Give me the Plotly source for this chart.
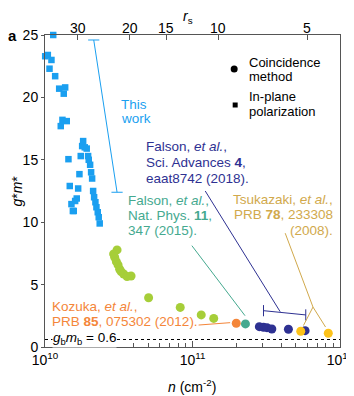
import math
import plotly.graph_objects as go

# ---- data (n in cm^-2, g*m*) ----
this_work_n = [1.137e10, 1.003e10, 1.045e10, 1.106e10, 1.073e10, 1.172e10, 1.248e10, 1.37e10,
               1.34e10, 1.313e10, 1.404e10, 1.279e10, 1.814e10, 1.786e10, 1.86e10, 1.918e10,
               1.442e10, 1.747e10, 1.96e10, 1.979e10, 2.023e10, 1.712e10, 2.054e10, 2.087e10,
               1.472e10, 1.678e10, 2.12e10, 2.153e10, 1.641e10, 1.601e10, 2.197e10, 1.511e10,
               2.232e10, 1.566e10, 1.545e10, 2.278e10, 2.313e10, 2.349e10]
this_work_gm = [25.0, 23.3, 23.4, 23.0, 22.3, 21.7, 20.7, 20.8, 20.3, 18.2, 18.1, 17.7, 16.5, 16.1,
                16.0, 15.9, 15.05, 15.3, 15.3, 15.0, 14.6, 13.85, 14.0, 13.5, 12.9, 12.7, 12.5, 12.0,
                11.9, 11.7, 11.6, 11.45, 11.2, 10.9, 10.9, 10.8, 10.4, 9.9]

green_n = [3.08e10, 2.92e10, 2.968e10, 3.047e10, 3.129e10, 3.208e10, 3.28e10, 3.415e10, 3.6e10,
           3.832e10, 5.04e10, 8.26e10, 1.146e11, 1.393e11]
green_gm = [7.78, 7.46, 7.19, 6.84, 6.58, 6.23, 6.04, 5.85, 5.64, 5.69, 3.95, 3.17, 2.57, 2.29]

kozuka_n = [1.98e11]
kozuka_gm = [1.9]
natphys_n = [2.286e11]
natphys_gm = [1.85]
sciadv_n = [2.84e11, 3.03e11, 3.2e11, 3.45e11, 4.47e11, 5.8e11]
sciadv_gm = [1.63, 1.58, 1.55, 1.44, 1.42, 1.31]
tsukazaki_n = [5.42e11, 8.33e11]
tsukazaki_gm = [1.26, 1.1]

gb_mb = 0.6

# leader lines of the labels
this_work_bar_n = [2.14e10, 3.08e10]
this_work_bar_gm = [24.6, 12.4]
sciadv_bar_n = [3.03e11, 5.86e11]
sciadv_bar_gm = [2.91, 2.57]
sciadv_lead_n = [1.22e11, 3.93e11]
sciadv_lead_gm = [12.5, 2.83]
natphys_lead_n = [9.9e10, 2.27e11]
natphys_lead_gm = [8.12, 2.51]
kozuka_lead_n = [1.1e11, 1.8e11]
kozuka_lead_gm = [1.76, 1.95]
tsuka_lead_n = [4.25e11, 6.56e11, 5.65e11, None, 6.56e11, 7.98e11]
tsuka_lead_gm = [9.12, 3.2, 1.72, None, 3.2, 1.6]

# top axis: r_s
rs_ticks = [30, 20, 15, 10, 5]
rs_const = 3.87e6  # r_s = C / sqrt(n)
rs_n = [(rs_const / r) ** 2 for r in rs_ticks]

blue = '#1a9ff0'
green = '#a6ce39'
orange = '#f4863a'
teal = '#45a98f'
navy = '#2e3192'
yellow = '#fdc219'
gold = '#d1a94c'

FONT = 'Arial, Liberation Sans, sans-serif'
# page has an 8px body margin, so the figure starts at (8, 8) in the window
OFF = 8
W, H = 354 - OFF, 396 - OFF
L, R, T, B = 44.5, 340, 35, 347  # plot area in window pixels


def px(x, y):
    # window pixel -> paper coordinates
    return (x - L) / (R - L), (B - y) / (B - T)


fig = go.Figure()


def line(xs, ys, color, caps=None):
    fig.add_trace(go.Scatter(x=xs, y=ys, mode='lines', line=dict(color=color, width=1),
                             showlegend=False, hoverinfo='skip', cliponaxis=False))
    if caps:
        fig.add_trace(go.Scatter(x=xs, y=ys, mode='markers', showlegend=False, hoverinfo='skip',
                                 marker=dict(symbol=caps, size=8, line=dict(color=color, width=1)),
                                 cliponaxis=False))


line(this_work_bar_n, this_work_bar_gm, blue, 'line-ew')
line(sciadv_lead_n, sciadv_lead_gm, navy)
line(sciadv_bar_n, sciadv_bar_gm, navy, 'line-ns')
line(natphys_lead_n, natphys_lead_gm, teal)
line(kozuka_lead_n, kozuka_lead_gm, orange)
line(tsuka_lead_n, tsuka_lead_gm, gold)

fig.add_trace(go.Scatter(x=this_work_n, y=this_work_gm, mode='markers', showlegend=False,
                         marker=dict(symbol='square', size=6.5, color=blue), cliponaxis=False))
for xs, ys, c in [(green_n, green_gm, green), (kozuka_n, kozuka_gm, orange),
                  (natphys_n, natphys_gm, teal), (sciadv_n, sciadv_gm, navy),
                  (tsukazaki_n, tsukazaki_gm, yellow)]:
    fig.add_trace(go.Scatter(x=xs, y=ys, mode='markers', showlegend=False,
                             marker=dict(symbol='circle', size=9, color=c)))

# dummy trace so the top axis is drawn
fig.add_trace(go.Scatter(x=[None], y=[None], xaxis='x2', showlegend=False))

fig.add_shape(type='line', xref='x domain', x0=0, x1=1, yref='y', y0=gb_mb, y1=gb_mb,
              line=dict(color='black', width=1, dash='dot'))

annotations = []


def text_at(t, x, y, color='black', size=13.5, anchor='left', angle=0):
    ax, ay = px(x, y)
    annotations.append(dict(x=ax, y=ay, xref='paper', yref='paper', text=t, showarrow=False,
                            xanchor=anchor, yanchor='middle', textangle=angle,
                            font=dict(family=FONT, size=size, color=color)))


def label(lines, x, y0, color, step=15.5, anchor='left', size=13.5):
    for i, t in enumerate(lines):
        text_at(t, x, y0 + i * step, color, size, anchor)


label(['This', 'work'], 119, 104, blue, step=14.5)
label(['Falson, <i>et al.</i>,', 'Sci. Advances <b>4</b>,', 'eaat8742 (2018).'], 144, 146.5, navy, step=16)
label(['Falson, <i>et al.</i>,', 'Nat. Phys. <b>11</b>,', '347 (2015).'], 126, 200.5, teal, step=15)
label(['Tsukazaki, <i>et al.</i>,', 'PRB <b>78</b>, 233308', '(2008).'], 335, 199, gold, step=15.5,
      anchor='right')
label(['Kozuka, <i>et al.</i>,', 'PRB <b>85</b>, 075302 (2012).'], 50, 306, orange, step=15)
label(['Coincidence', 'method'], 247, 62, 'black', step=15, size=13)
label(['In-plane', 'polarization'], 247, 96, 'black', step=15, size=13)

gx, gy = px(52, 338.5)
annotations.append(dict(x=gx, y=gy, xref='paper', yref='paper', xanchor='left', yanchor='middle',
                        text='<i>g</i><sub>b</sub><i>m</i><sub>b</sub> = 0.6', showarrow=False,
                        bgcolor='white', borderpad=0, font=dict(family=FONT, size=13.5, color='black')))
text_at('<b>a</b>', 12, 35, size=15, anchor='center')

# axis titles
text_at('<i>n</i> (cm<sup>-2</sup>)', 192, 386, size=14, anchor='center')
text_at('<i>g</i>*<i>m</i>*', 16, 191, size=14, anchor='center', angle=-90)
text_at('<i>r</i><sub>s</sub>', 188, 17, size=14, anchor='center')

# top-axis tick labels (r_s)
_, top_y = px(0, 28)
for n, r in zip(rs_n, rs_ticks):
    annotations.append(dict(x=math.log10(n), y=top_y, xref='x', yref='paper', text=str(r),
                            showarrow=False, xanchor='center', yanchor='middle',
                            font=dict(family=FONT, size=14, color='black')))

# legend symbols
cx, cy = px(234, 69)
fig.add_shape(type='circle', xref='paper', yref='paper', x0=cx - 3.5 / (R - L), x1=cx + 3.5 / (R - L),
              y0=cy - 3.5 / (B - T), y1=cy + 3.5 / (B - T), fillcolor='black', line=dict(width=0))
sx, sy = px(235, 105)
fig.add_shape(type='rect', xref='paper', yref='paper', x0=sx - 2.5 / (R - L), x1=sx + 2.5 / (R - L),
              y0=sy - 2.5 / (B - T), y1=sy + 2.5 / (B - T), fillcolor='black', line=dict(width=0))

axis_col = '#555555'
fig.update_layout(
    width=W, height=H,
    margin=dict(l=L - OFF, r=354 - R, t=T - OFF, b=396 - B, autoexpand=False),
    paper_bgcolor='white', plot_bgcolor='white',
    font=dict(family=FONT, size=14, color='black'),
    showlegend=False,
    annotations=annotations,
    xaxis=dict(type='log', range=[10, 12], showgrid=False, zeroline=False, automargin=False,
               showline=True, linecolor=axis_col, linewidth=1,
               ticks='inside', ticklen=6, tickcolor=axis_col,
               tickvals=[1e10, 1e11, 1e12],
               ticktext=['10<sup>10</sup>', '10<sup>11</sup>', '10<sup>12</sup>'],
               minor=dict(ticks='inside', ticklen=4, tickcolor=axis_col,
                          tickvals=[m * 10 ** d for d in (10, 11) for m in range(2, 10)])),
    xaxis2=dict(type='log', range=[10, 12], overlaying='x', side='top', showgrid=False, zeroline=False,
                automargin=False, showline=True, linecolor=axis_col, linewidth=1,
                ticks='inside', ticklen=5, tickcolor=axis_col, showticklabels=False,
                tickvals=rs_n),
    yaxis=dict(range=[0, 25], showgrid=False, zeroline=False, automargin=False,
               showline=True, linecolor=axis_col, linewidth=1, mirror=True,
               ticks='outside', ticklen=3, tickcolor=axis_col,
               tickvals=[0, 5, 10, 15, 20, 25]),
)

fig.write_html('out.html')
